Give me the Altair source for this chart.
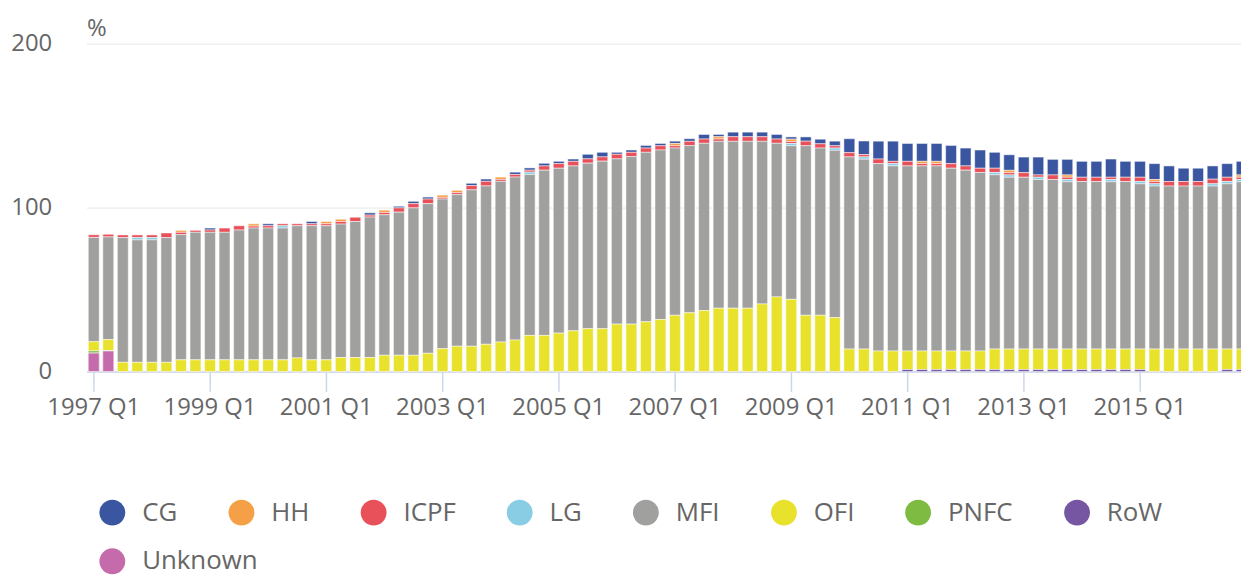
import altair as alt
import pandas as pd

years = list(range(1997, 2017))
quarters = [f"{y} Q{q}" for y in years for q in range(1, 5)]
tick_labels = [f"{y} Q1" for y in range(1997, 2017, 2)]

series = ["CG", "HH", "ICPF", "LG", "MFI", "OFI", "PNFC", "RoW", "Unknown"]
colors = ["#3a56a0", "#f5a047", "#e8515a", "#88cde4", "#a0a09f",
          "#e9e22c", "#7dbb42", "#7656a2", "#c56aab"]

cg = [0, 0, 0, 0, 0, 0, 0, 0, 1.2, 0,
      0, 0, 1.2, 0, 0, 1.4, 0, 0, 0, 1.4,
      0, 1.0, 1.4, 1.2, 0, 0, 1.4, 1.4, 0, 1.4,
      1.4, 1.6, 1.4, 1.4, 2.8, 2.8, 1.2, 1.4, 1.6, 1.4,
      1.4, 1.6, 2.8, 1.4, 2.8, 2.8, 2.8, 2.8, 1.4, 2.6,
      2.8, 2.8, 8.5, 8.3, 10.9, 12.3, 10.9, 10.9, 10.9, 11.1,
      10.9, 11.1, 9.7, 9.5, 9.5, 10.9, 9.5, 9.5, 9.7, 9.7,
      11.1, 9.7, 9.7, 9.7, 9.5, 8.1, 8.1, 8.1, 8.3, 8.3]

hh = [0, 0, 0, 0, 0, 0, 1.2, 0, 0, 0,
      0, 1.4, 0, 0, 0, 0, 1.4, 1.4, 0, 0,
      1.4, 0, 0, 0, 1.4, 1.4, 0, 0, 1.4, 0,
      0, 0, 0, 0, 0, 0, 0, 0, 0, 0,
      1.4, 0, 0, 1.4, 0, 0, 0, 0, 1.4, 0,
      0, 0, 0, 0, 0, 0, 0, 1.4, 1.4, 0,
      0, 0, 0, 1.4, 0, 0, 0, 1.4, 0, 0,
      0, 0, 0, 1.2, 0, 0, 0, 0, 0, 1.4]

icpf = [1.6, 1.6, 1.6, 1.6, 1.6, 2.8, 1.4, 1.2, 1.4, 2.6,
        2.6, 1.2, 1.4, 1.2, 1.2, 1.2, 1.2, 1.6, 2.6, 1.2,
        1.4, 2.6, 2.6, 2.8, 1.0, 1.2, 2.6, 2.8, 1.2, 1.6,
        1.2, 2.6, 2.8, 2.8, 2.6, 2.6, 2.8, 2.6, 2.6, 2.6,
        1.4, 2.6, 2.6, 1.4, 2.8, 2.8, 2.8, 2.6, 1.2, 2.8,
        2.6, 1.4, 2.6, 1.4, 2.8, 1.4, 2.8, 1.4, 1.4, 2.8,
        2.6, 2.6, 2.6, 1.4, 2.8, 1.4, 2.8, 1.4, 2.6, 2.6,
        1.4, 2.6, 2.6, 1.4, 2.8, 2.8, 2.8, 2.8, 2.6, 1.4]

lg = [0, 0, 0, 1.4, 1.4, 0, 0, 0, 0, 0,
      0, 0, 0, 1.4, 0, 0, 0, 0, 0, 0,
      0, 0, 0, 0, 0, 0, 0, 0, 0, 0,
      1.4, 0, 0, 0, 0, 0, 0, 0, 0, 0,
      0, 0, 0, 0, 0, 0, 0, 0, 1.4, 0,
      0, 1.4, 0, 1.4, 0, 1.4, 0, 0, 0, 0,
      0, 0, 1.4, 1.4, 0, 1.4, 0, 1.4, 0, 0,
      1.4, 0, 1.4, 1.4, 0, 0, 0, 1.4, 1.4, 1.4]

mfi = [63.6, 62.6, 76.1, 74.7, 74.7, 76.1, 76.4, 77.8, 77.8, 77.8,
       79.2, 80.4, 80.4, 80.4, 80.6, 81.8, 81.8, 81.4, 83.0, 85.7,
       85.7, 87.3, 89.9, 91.3, 91.3, 92.5, 95.4, 96.6, 98.0, 99.4,
       98.2, 100.8, 100.6, 100.6, 101.0, 102.2, 100.8, 102.2, 103.4, 103.4,
       102.0, 102.0, 102.0, 101.8, 101.8, 101.8, 99.2, 93.7, 93.7, 103.4,
       102.0, 102.0, 117.2, 115.8, 114.3, 112.9, 112.9, 112.9, 112.9, 111.5,
       110.3, 108.9, 106.3, 104.8, 104.8, 103.4, 103.4, 102.0, 102.2, 102.2,
       102.0, 102.2, 100.8, 99.4, 99.4, 99.4, 99.4, 99.4, 100.8, 102.0]

ofi = [5.6, 6.7, 5.6, 5.6, 5.6, 5.6, 7.1, 7.1, 7.1, 7.1,
       7.1, 7.1, 7.1, 7.1, 8.3, 7.1, 7.1, 8.5, 8.5, 8.5,
       9.9, 9.9, 9.9, 11.1, 13.9, 15.4, 15.4, 16.6, 18.0, 19.2,
       22.0, 22.0, 23.4, 24.8, 26.1, 26.1, 28.9, 28.9, 30.3, 31.7,
       34.3, 35.8, 37.2, 38.6, 38.6, 38.6, 41.2, 45.5, 44.0, 34.3,
       34.3, 32.9, 13.7, 13.7, 12.5, 12.5, 11.3, 11.3, 11.3, 11.3,
       11.3, 11.3, 12.5, 12.5, 12.5, 12.5, 12.5, 12.5, 12.5, 12.5,
       12.5, 12.5, 12.5, 13.7, 13.7, 13.7, 13.7, 13.7, 12.5, 12.5]

pnfc = [1.4, 0.3] + [0] * 78

row = ([0] * 56 + [1.2] * 17 + [0] * 5 + [1.2] * 2)

unknown = [11.2, 12.5] + [0] * 78

values_by_series = [cg, hh, icpf, lg, mfi, ofi, pnfc, row, unknown]

records = []
for i, q in enumerate(quarters):
    for k, (name, vals) in enumerate(zip(series, values_by_series)):
        v = vals[i]
        if v > 0:
            records.append({"quarter": q, "sector": name, "value": v,
                            "rank": len(series) - 1 - k})
df = pd.DataFrame(records)

FONT = "Open Sans"
TXT = "#666666"

x_enc = alt.X("quarter:N", sort=quarters,
              scale=alt.Scale(paddingInner=0.25, paddingOuter=0.125),
              axis=alt.Axis(values=tick_labels, title=None, labelAngle=0,
                            tickSize=20, tickColor="#ccd6eb", tickWidth=1.5,
                            domainColor="#ccd6eb", domainWidth=1.5,
                            labelPadding=4, labelFont=FONT, labelFontSize=24,
                            labelColor=TXT, labelOverlap=False, grid=False))
y_enc = alt.Y("value:Q", stack="zero",
              scale=alt.Scale(domain=[0, 200], nice=False),
              axis=alt.Axis(values=[0, 100, 200], title="%", titleAngle=0,
                            titleX=0, titleY=-8, titleAlign="left",
                            titleBaseline="alphabetic", titleFont=FONT,
                            titleFontSize=24, titleFontWeight="normal",
                            titleColor=TXT, ticks=False, domain=False,
                            labelPadding=35, labelFont=FONT, labelFontSize=24,
                            labelColor=TXT, grid=True, gridColor="#e6e6e6",
                            gridWidth=1))

legend_common = dict(title=None, orient="none", legendX=13,
                     direction="horizontal", symbolType="circle",
                     symbolSize=676, symbolStrokeWidth=0, symbolOpacity=1,
                     labelFont=FONT, labelFontSize=26, labelColor=TXT,
                     labelOffset=17, columnPadding=51, padding=0)

bars = alt.Chart(df).mark_bar(stroke="white", strokeWidth=0.5).encode(
    x=x_enc,
    y=y_enc,
    color=alt.Color("sector:N",
                    scale=alt.Scale(domain=series, range=colors),
                    legend=alt.Legend(values=series[:8], legendY=459,
                                      **legend_common)),
    order=alt.Order("rank:Q", sort="ascending"),
)

unknown_bars = alt.Chart(df).transform_filter(
    alt.datum.sector == series[8]
).mark_bar(stroke="white", strokeWidth=0.5).encode(
    x=x_enc,
    y=y_enc,
    fill=alt.Fill("sector:N",
                  scale=alt.Scale(domain=[series[8]], range=[colors[8]]),
                  legend=alt.Legend(legendY=508, **legend_common)),
)

chart = alt.layer(bars, unknown_bars).properties(
    width=1170, height=330,
    autosize=alt.AutoSizeParams(type="none"),
    padding={"left": 79, "top": 34, "right": -8, "bottom": 209},
).configure_view(stroke=None)

chart.save("out.html", embed_options={"renderer": "svg", "actions": False})
